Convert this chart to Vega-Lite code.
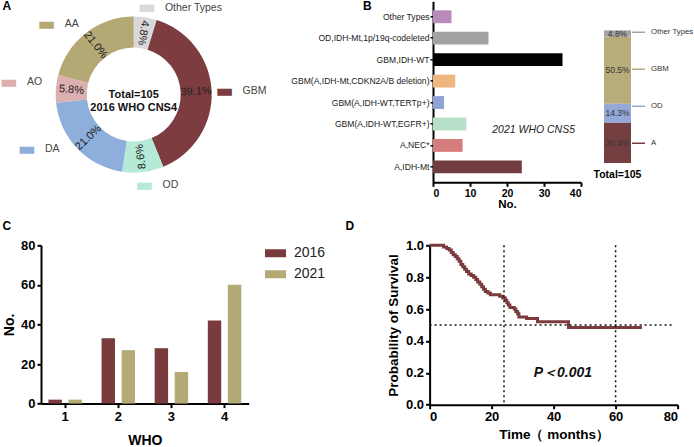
{
  "$schema": "https://vega.github.io/schema/vega-lite/v6.json",
  "background": "white",
  "padding": {"top": -2.7, "left": 0, "right": 0, "bottom": 0},
  "config": {
    "font": "Liberation Sans",
    "view": {"stroke": null},
    "axis": {"grid": false, "domainColor": "#000", "domainWidth": 2, "tickColor": "#000", "tickWidth": 2, "tickSize": 5, "labelColor": "#000", "titleColor": "#000", "labelFontWeight": "bold", "titleFontWeight": "bold", "labelFontSize": 12, "titleFontSize": 13, "labelFont": "Liberation Sans", "titleFont": "Liberation Sans", "labelOverlap": false},
    "title": {"fontSize": 12, "fontWeight": "bold", "anchor": "start", "frame": "group", "color": "#000", "offset": 0, "baseline": "top", "font": "Liberation Sans"}
  },
  "spacing": 9,
  "resolve": {"scale": {"color": "independent"}, "legend": {"color": "independent"}},
  "vconcat": [
    {
      "spacing": 23,
      "resolve": {"scale": {"color": "independent"}, "legend": {"color": "independent"}},
      "hconcat": [
        {
          "width": 185.4,
          "height": 186.6,
          "title": {"text": "A", "dx": -38.5, "dy": 19.5},
          "layer": [
            {
              "data": {"values": [
                {"type": "Other Types", "n": 5, "pct": "4.8%"},
                {"type": "GBM", "n": 41, "pct": "39.1%"},
                {"type": "OD", "n": 9, "pct": "8.6%"},
                {"type": "DA", "n": 22, "pct": "21.0%"},
                {"type": "AO", "n": 6, "pct": "5.8%"},
                {"type": "AA", "n": 22, "pct": "21.0%"}
              ]},
              "transform": [
                {"window": [{"op": "row_number", "as": "ord"}]},
                {"window": [{"op": "sum", "field": "n", "as": "cum"}], "sort": [{"field": "ord"}], "frame": [null, 0]},
                {"calculate": "datum.cum - datum.n / 2", "as": "mid"},
                {"calculate": "datum.mid / 105 * 360 + 90", "as": "a0"},
                {"calculate": "datum.a0 > 150 && datum.a0 < 210 ? datum.a0 - 180 : datum.a0", "as": "ang"}
              ],
              "encoding": {
                "color": {"field": "type", "type": "nominal", "legend": null, "scale": {"domain": ["Other Types", "GBM", "OD", "DA", "AO", "AA"], "range": ["#d9d9d9", "#7d3c3f", "#b5ead7", "#8eaedb", "#dcafb0", "#b4a974"]}}
              },
              "layer": [
                {"mark": {"type": "arc", "innerRadius": 47, "outerRadius": 78},
                 "encoding": {"theta": {"field": "n", "type": "quantitative", "stack": true, "scale": {"domain": [0, 105]}}, "order": {"field": "ord", "type": "quantitative"}}},
                {"mark": {"type": "text", "radius": 62.5, "fontSize": 11, "baseline": "middle", "align": "center"},
                 "encoding": {"theta": {"field": "mid", "type": "quantitative", "stack": null}, "text": {"field": "pct"}, "angle": {"field": "ang", "type": "quantitative", "scale": null}, "color": {"value": "#222"}}},
                {"transform": [{"filter": {"field": "type", "equal": "Other Types"}}],
                 "layer": [
                   {"mark": {"type": "text", "radius": 89, "font": "DejaVu Sans", "fontSize": 19, "baseline": "middle", "align": "center", "text": "▬"},
                    "encoding": {"theta": {"field": "mid", "type": "quantitative", "stack": null}}},
                   {"mark": {"type": "text", "radius": 89, "dx": 18, "dy": 1, "fontSize": 10.5, "baseline": "middle", "align": "left"},
                    "encoding": {"theta": {"field": "mid", "type": "quantitative", "stack": null}, "text": {"field": "type"}, "color": {"value": "#444"}}}
                 ]},
                {"transform": [{"filter": {"field": "type", "oneOf": ["GBM", "OD"]}}],
                 "layer": [
                   {"mark": {"type": "text", "radius": 91, "font": "DejaVu Sans", "fontSize": 19, "baseline": "middle", "align": "center", "text": "▬"},
                    "encoding": {"theta": {"field": "mid", "type": "quantitative", "stack": null}}},
                   {"mark": {"type": "text", "radius": 91, "dx": 18, "fontSize": 10.5, "baseline": "middle", "align": "left"},
                    "encoding": {"theta": {"field": "mid", "type": "quantitative", "stack": null}, "text": {"field": "type"}, "color": {"value": "#444"}}}
                 ]},
                {"transform": [{"filter": {"field": "type", "equal": "DA"}}],
                 "layer": [
                   {"mark": {"type": "text", "radius": 120, "dx": -20, "dy": -29, "font": "DejaVu Sans", "fontSize": 19, "baseline": "middle", "align": "center", "text": "▬"},
                    "encoding": {"theta": {"field": "mid", "type": "quantitative", "stack": null}}},
                   {"mark": {"type": "text", "radius": 120, "dx": -2, "dy": -29, "fontSize": 10.5, "baseline": "middle", "align": "left"},
                    "encoding": {"theta": {"field": "mid", "type": "quantitative", "stack": null}, "text": {"field": "type"}, "color": {"value": "#444"}}}
                 ]},
                {"transform": [{"filter": {"field": "type", "equal": "AO"}}],
                 "layer": [
                   {"mark": {"type": "text", "radius": 125, "dy": -3, "font": "DejaVu Sans", "fontSize": 19, "baseline": "middle", "align": "center", "text": "▬"},
                    "encoding": {"theta": {"field": "mid", "type": "quantitative", "stack": null}}},
                   {"mark": {"type": "text", "radius": 125, "dx": 18, "dy": -3, "fontSize": 10.5, "baseline": "middle", "align": "left"},
                    "encoding": {"theta": {"field": "mid", "type": "quantitative", "stack": null}, "text": {"field": "type"}, "color": {"value": "#444"}}}
                 ]},
                {"transform": [{"filter": {"field": "type", "equal": "AA"}}],
                 "layer": [
                   {"mark": {"type": "text", "radius": 111, "dx": -19, "dy": 17, "font": "DejaVu Sans", "fontSize": 19, "baseline": "middle", "align": "center", "text": "▬"},
                    "encoding": {"theta": {"field": "mid", "type": "quantitative", "stack": null}}},
                   {"mark": {"type": "text", "radius": 111, "dx": -1, "dy": 17, "fontSize": 10.5, "baseline": "middle", "align": "left"},
                    "encoding": {"theta": {"field": "mid", "type": "quantitative", "stack": null}, "text": {"field": "type"}, "color": {"value": "#444"}}}
                 ]}
              ]
            },
            {
              "data": {"values": [{"l": "center"}]},
              "mark": {"type": "text", "fontSize": 11, "fontWeight": "bold", "baseline": "middle", "align": "center", "lineHeight": 13, "color": "#111"},
              "encoding": {"text": {"value": ["Total=105", "2016 WHO CNS4"]}}
            }
          ]
        },
        {
          "spacing": 23,
          "bounds": "flush",
          "resolve": {"scale": {"color": "independent"}, "legend": {"color": "independent"}},
          "hconcat": [
            {
              "width": 148,
              "height": 181,
              "title": {"text": "B", "dx": -70, "dy": 15.5},
              "layer": [
                {
                  "data": {"values": [
                    {"type": "Other Types", "n": 5},
                    {"type": "OD,IDH-Mt,1p/19q-codeleted", "n": 15},
                    {"type": "GBM,IDH-WT", "n": 35},
                    {"type": "GBM(A,IDH-Mt,CDKN2A/B deletion)", "n": 6},
                    {"type": "GBM(A,IDH-WT,TERTp+)", "n": 3},
                    {"type": "GBM(A,IDH-WT,EGFR+)", "n": 9},
                    {"type": "A,NEC*", "n": 8},
                    {"type": "A,IDH-Mt", "n": 24}
                  ]},
                  "mark": {"type": "bar"},
                  "encoding": {
                    "y": {"field": "type", "type": "nominal", "sort": null,
                      "scale": {"domain": ["Other Types", "OD,IDH-Mt,1p/19q-codeleted", "GBM,IDH-WT", "GBM(A,IDH-Mt,CDKN2A/B deletion)", "GBM(A,IDH-WT,TERTp+)", "GBM(A,IDH-WT,EGFR+)", "A,NEC*", "A,IDH-Mt"], "paddingInner": 0.4, "paddingOuter": 0.42},
                      "axis": {"title": null, "labelFontSize": 8.6, "labelFontWeight": "normal", "labelColor": "#222", "labelLimit": 0, "labelOverlap": false, "tickSize": 3, "tickWidth": 1.5, "labelPadding": 1}},
                    "x": {"field": "n", "type": "quantitative", "scale": {"domain": [0, 40], "nice": false},
                      "axis": {"title": "No.", "values": [0, 10, 20, 30, 40], "tickCount": 10, "labelOverlap": false, "labelFontSize": 10.5, "titleFontSize": 11.5, "tickSize": 4, "titlePadding": 0}},
                    "color": {"field": "type", "type": "nominal", "legend": null,
                      "scale": {"domain": ["Other Types", "OD,IDH-Mt,1p/19q-codeleted", "GBM,IDH-WT", "GBM(A,IDH-Mt,CDKN2A/B deletion)", "GBM(A,IDH-WT,TERTp+)", "GBM(A,IDH-WT,EGFR+)", "A,NEC*", "A,IDH-Mt"], "range": ["#b98bbd", "#a3a3a6", "#000000", "#f0b67f", "#8ea2d4", "#b7e0c8", "#d67c7c", "#713d3f"]}}
                  }
                },
                {
                  "data": {"values": [{"label": "2021 WHO CNS5"}]},
                  "mark": {"type": "text", "fontStyle": "italic", "fontSize": 10.5, "dy": 6, "color": "#222"},
                  "encoding": {"text": {"field": "label"}, "x": {"datum": 27.2}, "y": {"datum": "GBM(A,IDH-WT,EGFR+)"}}
                }
              ]
            },
            {
              "width": 27,
              "height": 161.7,
              "data": {"values": [
                {"type": "A", "n": 32, "pct": "30.4%"},
                {"type": "OD", "n": 15, "pct": "14.3%"},
                {"type": "GBM", "n": 53, "pct": "50.5%"},
                {"type": "Other Types", "n": 5, "pct": "4.8%"}
              ]},
              "transform": [
                {"window": [{"op": "row_number", "as": "ord"}]},
                {"stack": "n", "groupby": [], "sort": [{"field": "ord", "order": "ascending"}], "as": ["y0", "y1"]},
                {"calculate": "(datum.y0 + datum.y1) / 2", "as": "ym"}
              ],
              "encoding": {
                "x": {"datum": "Total=105", "type": "nominal", "scale": {"paddingInner": 0, "paddingOuter": 0},
                  "axis": {"title": null, "labelAngle": 0, "labelFontSize": 10.5, "domain": false, "ticks": false, "labelPadding": 7}}
              },
              "layer": [
                {
                  "mark": {"type": "bar"},
                  "encoding": {
                    "y": {"field": "y0", "type": "quantitative", "scale": {"domain": [0, 128], "nice": false}, "axis": null},
                    "y2": {"field": "y1"},
                    "color": {"field": "type", "type": "nominal",
                      "scale": {"domain": ["Other Types", "GBM", "OD", "A"], "range": ["#a4a4a6", "#b6ad7a", "#94a9d8", "#733f40"]},
                      "legend": {"orient": "none", "legendX": 27, "legendY": 26, "title": null, "symbolType": "M-1,-0.12H1V0.12H-1Z", "symbolSize": 169, "labelFontSize": 7.8, "labelColor": "#333", "labelOffset": 5, "rowPadding": 27, "clipHeight": 10, "labelFont": "Liberation Sans"}}
                  }
                },
                {
                  "mark": {"type": "text", "fontSize": 8.5, "color": "#333", "baseline": "middle"},
                  "encoding": {"y": {"field": "ym", "type": "quantitative"}, "text": {"field": "pct"}}
                }
              ]
            }
          ]
        }
      ]
    },
    {
      "spacing": 180.6,
      "bounds": "flush",
      "resolve": {"scale": {"color": "independent"}, "legend": {"color": "independent"}},
      "hconcat": [
        {
          "width": 207.7,
          "height": 158.3,
          "title": {"text": "C", "dx": -38.5, "dy": -2.5},
          "data": {"values": [
            {"who": "1", "year": "2016", "n": 2},
            {"who": "1", "year": "2021", "n": 2},
            {"who": "2", "year": "2016", "n": 33},
            {"who": "2", "year": "2021", "n": 27},
            {"who": "3", "year": "2016", "n": 28},
            {"who": "3", "year": "2021", "n": 16},
            {"who": "4", "year": "2016", "n": 42},
            {"who": "4", "year": "2021", "n": 60}
          ]},
          "mark": {"type": "bar"},
          "encoding": {
            "x": {"field": "who", "type": "nominal", "scale": {"paddingInner": 0.37, "paddingOuter": 0.14},
              "axis": {"title": "WHO", "labelAngle": 0, "labelFontSize": 13, "titleFontSize": 14, "tickSize": 4, "labelPadding": 3, "titlePadding": 10}},
            "xOffset": {"field": "year", "type": "nominal", "scale": {"paddingInner": 0.33, "paddingOuter": 0}},
            "y": {"field": "n", "type": "quantitative", "scale": {"domain": [0, 80], "nice": false},
              "axis": {"title": "No.", "values": [0, 20, 40, 60, 80], "tickCount": 10, "labelOverlap": false, "labelFontSize": 13, "titleFontSize": 14, "tickSize": 4, "titlePadding": 4}},
            "color": {"field": "year", "type": "nominal",
              "scale": {"domain": ["2016", "2021"], "range": ["#7a3b3e", "#b5aa76"]},
              "legend": {"orient": "none", "legendX": 223, "legendY": 1, "title": null, "symbolType": "M-1,-0.38H1V0.38H-1Z", "symbolSize": 441, "labelFontSize": 14, "labelColor": "#222", "labelOffset": 7, "rowPadding": 7, "clipHeight": 14, "labelFont": "Liberation Sans"}}
          }
        },
        {
          "width": 248,
          "height": 159.4,
          "title": {"text": "D", "dx": -84, "dy": -2.5},
          "layer": [
            {
              "data": {"values": [
                {"t": 0, "s": 1.0}, {"t": 4.5, "s": 0.99}, {"t": 5.5, "s": 0.98}, {"t": 6.3, "s": 0.97},
                {"t": 7.0, "s": 0.955}, {"t": 7.6, "s": 0.94}, {"t": 8.3, "s": 0.93}, {"t": 8.9, "s": 0.915},
                {"t": 9.5, "s": 0.9}, {"t": 10.1, "s": 0.88}, {"t": 10.7, "s": 0.865}, {"t": 11.3, "s": 0.85},
                {"t": 11.9, "s": 0.835}, {"t": 12.6, "s": 0.82}, {"t": 13.4, "s": 0.81}, {"t": 14.2, "s": 0.8},
                {"t": 14.9, "s": 0.785}, {"t": 15.5, "s": 0.77}, {"t": 16.2, "s": 0.755}, {"t": 16.8, "s": 0.74},
                {"t": 17.4, "s": 0.725}, {"t": 18.0, "s": 0.71}, {"t": 18.8, "s": 0.7}, {"t": 19.6, "s": 0.69},
                {"t": 22.6, "s": 0.68}, {"t": 23.6, "s": 0.67}, {"t": 24.4, "s": 0.655}, {"t": 24.9, "s": 0.64},
                {"t": 25.4, "s": 0.625}, {"t": 25.9, "s": 0.61}, {"t": 27.3, "s": 0.6}, {"t": 27.8, "s": 0.585},
                {"t": 28.4, "s": 0.57}, {"t": 28.8, "s": 0.55}, {"t": 31.3, "s": 0.54}, {"t": 34.8, "s": 0.52},
                {"t": 44.8, "s": 0.485}, {"t": 68.5, "s": 0.485}
              ]},
              "mark": {"type": "line", "interpolate": "step-after", "color": "#7b3b3e", "strokeWidth": 3},
              "encoding": {
                "x": {"field": "t", "type": "quantitative", "scale": {"domain": [0, 80], "nice": false},
                  "axis": {"title": "Time（ months）", "values": [0, 20, 40, 60, 80], "tickCount": 10, "labelOverlap": false, "labelFontSize": 13, "titleFontSize": 13.5, "tickSize": 4, "titlePadding": 4}},
                "y": {"field": "s", "type": "quantitative", "scale": {"domain": [0, 1], "nice": false},
                  "axis": {"title": "Probability of Survival", "values": [0, 0.2, 0.4, 0.6, 0.8, 1.0], "tickCount": 10, "format": ".1f", "labelOverlap": false, "labelFontSize": 13, "titleFontSize": 13.5, "tickSize": 4, "titlePadding": 5}}
              }
            },
            {
              "data": {"values": [{"t": 24}, {"t": 60}]},
              "mark": {"type": "rule", "strokeDash": [2, 3], "color": "#111", "strokeWidth": 1.5},
              "encoding": {"x": {"field": "t", "type": "quantitative"}}
            },
            {
              "data": {"values": [{"s": 0.5}]},
              "mark": {"type": "rule", "strokeDash": [2, 3], "color": "#111", "strokeWidth": 1.5},
              "encoding": {"y": {"field": "s", "type": "quantitative"}, "x": {"datum": 0}, "x2": {"datum": 79}}
            },
            {
              "data": {"values": [{"label": "P＜0.001"}]},
              "mark": {"type": "text", "fontStyle": "italic", "fontWeight": "bold", "fontSize": 14, "color": "#111"},
              "encoding": {"text": {"field": "label"}, "x": {"datum": 43}, "y": {"datum": 0.2}}
            }
          ]
        }
      ]
    }
  ]
}
